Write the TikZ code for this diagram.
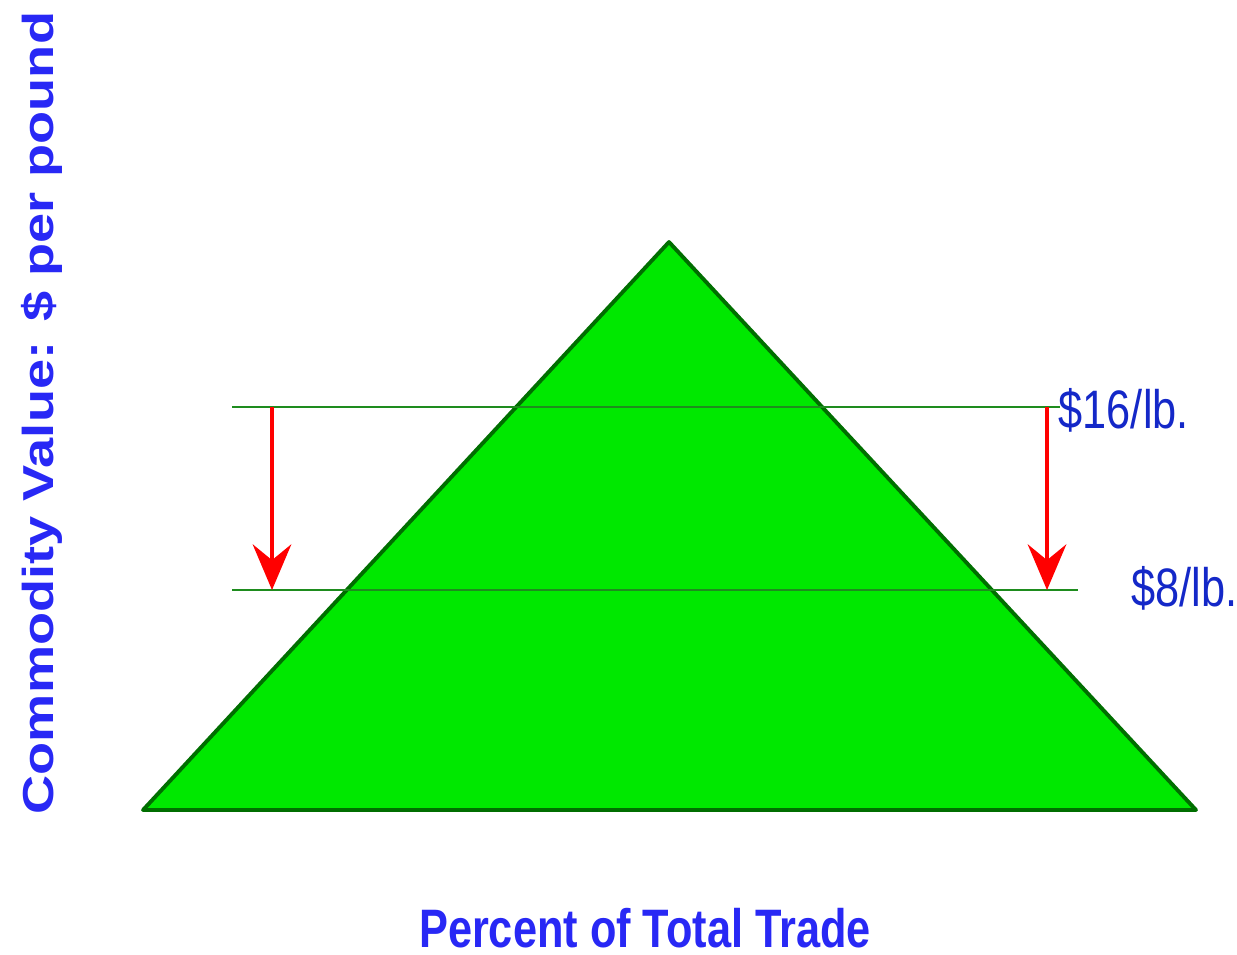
\documentclass[tikz,border=0pt]{standalone}
\usepackage{graphicx}
\usepackage{fontspec}
\setmainfont{Liberation Sans}
\usepackage{tikz}
\usetikzlibrary{arrows.meta}
\definecolor{fillgreen}{RGB}{0,232,0}
\definecolor{edgegreen}{RGB}{0,110,0}
\definecolor{linegreen}{RGB}{30,140,30}
\definecolor{titleblue}{RGB}{40,40,245}
\definecolor{labelblue}{RGB}{20,40,200}
\begin{document}
\begin{tikzpicture}[x=0.01cm,y=-0.01cm,
  axislabel/.style={text=titleblue,font=\fontsize{15.4}{18}\selectfont\bfseries,inner sep=0pt},
  pricelabel/.style={text=labelblue,font=\fontsize{15.4}{18}\selectfont,inner sep=0pt,anchor=base west},
  pricearrow/.style={red,line width=0.9pt,-{Stealth[length=13pt,width=11pt,inset=4.5pt]}},
  priceline/.style={linegreen,line width=0.7pt}]
\useasboundingbox (0,0) rectangle (1237,954);
% triangle
\coordinate (apex) at (669,242);
\coordinate (baseL) at (143,810);
\coordinate (baseR) at (1196,810);
\draw[fill=fillgreen,draw=edgegreen,line width=1.1pt,line join=round] (apex) -- (baseR) -- (baseL) -- cycle;
% price levels
\coordinate (hiL) at (232,407);
\coordinate (hiR) at (1060,407);
\coordinate (loL) at (232,590);
\coordinate (loR) at (1078,590);
\draw[priceline] (hiL) -- (hiR);
\draw[priceline] (loL) -- (loR);
\coordinate (leftTop) at (272,407);
\coordinate (leftBot) at (272,590);
\coordinate (rightTop) at (1047,407);
\coordinate (rightBot) at (1047,590);
\draw[pricearrow] (leftTop) -- (leftBot);
\draw[pricearrow] (rightTop) -- (rightBot);
\node[pricelabel] (hiprice) at (1058,428) {\scalebox{0.8}[1]{\$16/lb.}};
\node[pricelabel] (loprice) at (1131,606) {\scalebox{0.8}[1]{\$8/lb.}};
% axis titles
\node[axislabel,anchor=base] (xtitle) at (645,947) {\scalebox{0.8}[1]{Percent of Total Trade}};
\node[axislabel,anchor=base,rotate=90] (ytitle) at (54,413) {\scalebox{1}[0.8]{Commodity Value: \$ per pound}};
\end{tikzpicture}
\end{document}
